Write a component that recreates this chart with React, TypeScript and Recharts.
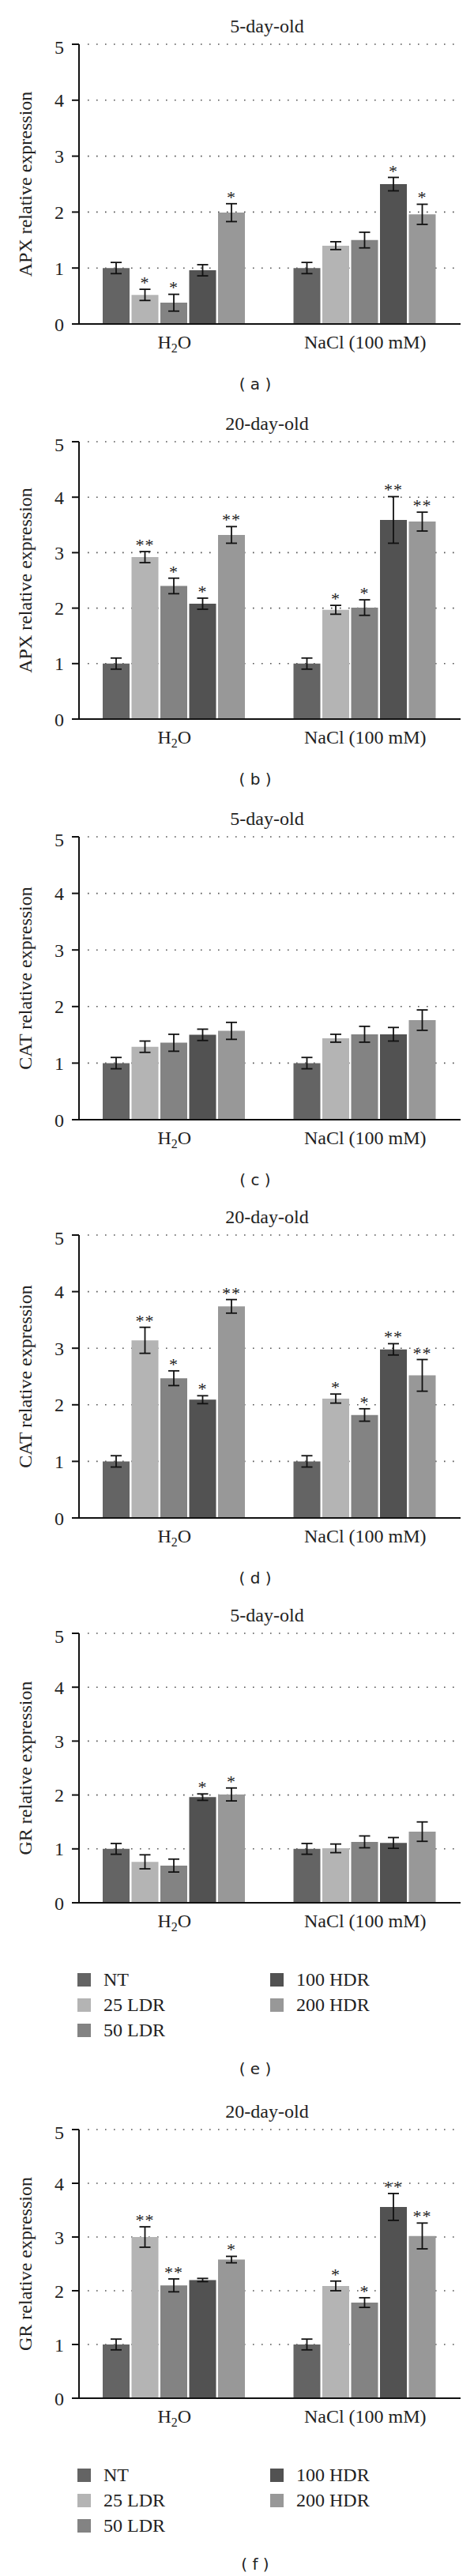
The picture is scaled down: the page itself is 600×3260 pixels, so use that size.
import React from "react";
import {
  BarChart,
  Bar,
  XAxis,
  YAxis,
  CartesianGrid,
  ErrorBar,
  LabelList,
  Label,
} from "recharts";

const categories = ["H2O", "NaCl (100 mM)"];
const seriesNames = ["NT", "25 LDR", "50 LDR", "100 HDR", "200 HDR"];
const seriesColors = ["#646464", "#b4b4b4", "#838383", "#525252", "#989898"];
const yTicks = [0, 1, 2, 3, 4, 5];

// rows: H2O, NaCl; columns: NT, 25 LDR, 50 LDR, 100 HDR, 200 HDR
const apx5Mean = [[1.0, 0.52, 0.38, 0.96, 1.99], [1.0, 1.4, 1.5, 2.5, 1.96]];
const apx5Err = [[0.1, 0.1, 0.15, 0.1, 0.16], [0.1, 0.07, 0.14, 0.12, 0.18]];
const apx5Sig = [["", "*", "*", "", "*"], ["", "", "", "*", "*"]];

const apx20Mean = [[1.0, 2.92, 2.4, 2.08, 3.32], [1.0, 1.97, 2.01, 3.59, 3.56]];
const apx20Err = [[0.1, 0.1, 0.14, 0.1, 0.15], [0.1, 0.08, 0.14, 0.42, 0.17]];
const apx20Sig = [["", "**", "*", "*", "**"], ["", "*", "*", "**", "**"]];

const cat5Mean = [[1.0, 1.29, 1.36, 1.5, 1.57], [1.0, 1.44, 1.51, 1.51, 1.76]];
const cat5Err = [[0.1, 0.1, 0.15, 0.1, 0.15], [0.1, 0.07, 0.14, 0.12, 0.18]];
const cat5Sig = [["", "", "", "", ""], ["", "", "", "", ""]];

const cat20Mean = [[1.0, 3.14, 2.47, 2.09, 3.74], [1.0, 2.11, 1.82, 2.98, 2.52]];
const cat20Err = [[0.1, 0.23, 0.13, 0.07, 0.12], [0.1, 0.08, 0.11, 0.1, 0.28]];
const cat20Sig = [["", "**", "*", "*", "**"], ["", "*", "*", "**", "**"]];

const gr5Mean = [[1.0, 0.76, 0.69, 1.96, 2.01], [1.0, 1.01, 1.13, 1.11, 1.32]];
const gr5Err = [[0.1, 0.13, 0.12, 0.06, 0.12], [0.1, 0.08, 0.11, 0.1, 0.18]];
const gr5Sig = [["", "", "", "*", "*"], ["", "", "", "", ""]];

const gr20Mean = [[1.0, 3.0, 2.1, 2.2, 2.58], [1.0, 2.09, 1.78, 3.56, 3.02]];
const gr20Err = [[0.1, 0.19, 0.12, 0.03, 0.06], [0.1, 0.09, 0.09, 0.25, 0.24]];
const gr20Sig = [["", "**", "**", "", "*"], ["", "*", "*", "**", "**"]];

const serif = '"Liberation Serif", "DejaVu Serif", serif';
const sans = '"DejaVu Sans", "Liberation Sans", sans-serif';
const ink = "#222";

const panels = [
  { tag: "a", title: "5-day-old", yLabel: "APX relative expression", mean: apx5Mean, err: apx5Err, sig: apx5Sig, y5: 56, y0: 410, legend: false },
  { tag: "b", title: "20-day-old", yLabel: "APX relative expression", mean: apx20Mean, err: apx20Err, sig: apx20Sig, y5: 559, y0: 910, legend: false },
  { tag: "c", title: "5-day-old", yLabel: "CAT relative expression", mean: cat5Mean, err: cat5Err, sig: cat5Sig, y5: 1059, y0: 1417, legend: false },
  { tag: "d", title: "20-day-old", yLabel: "CAT relative expression", mean: cat20Mean, err: cat20Err, sig: cat20Sig, y5: 1563, y0: 1921, legend: false },
  { tag: "e", title: "5-day-old", yLabel: "GR relative expression", mean: gr5Mean, err: gr5Err, sig: gr5Sig, y5: 2067, y0: 2408, legend: true },
  { tag: "f", title: "20-day-old", yLabel: "GR relative expression", mean: gr20Mean, err: gr20Err, sig: gr20Sig, y5: 2695, y0: 3035, legend: true },
];

function buildRows(mean: number[][], err: number[][], sig: string[][]) {
  return categories.map((cat, c) => {
    const row: any = { cat };
    seriesNames.forEach((_, s) => {
      row[`v${s}`] = mean[c][s];
      row[`e${s}`] = err[c][s];
      row[`s${s}`] = sig[c][s];
    });
    return row;
  });
}

// category tick, "H2O" gets a subscript 2
const CatTick = (props: any) => {
  const { x, y, payload } = props;
  const label = String(payload.value);
  const m = /^([A-Z][a-z]?)(\d)([A-Z].*)$/.exec(label);
  return (
    <text x={x} y={y + 31} textAnchor="middle" fontFamily={serif} fontSize={24} fill={ink}>
      {m ? (
        <>
          <tspan>{m[1]}</tspan>
          <tspan dy={5} fontSize={16}>{m[2]}</tspan>
          <tspan dy={-5}>{m[3]}</tspan>
        </>
      ) : (
        label
      )}
    </text>
  );
};

const starContent = (rows: any[], s: number) => (props: any) => {
  const { index, value } = props;
  if (!value) return null;
  const vb = props.viewBox || props;
  const x = Number(props.x ?? vb.x);
  const y = Number(props.y ?? vb.y);
  const w = Number(props.width ?? vb.width);
  const h = Number(props.height ?? vb.height);
  const row = rows[index];
  const capY = y - (row[`e${s}`] * h) / row[`v${s}`];
  return (
    <text x={x + w / 2} y={capY - 1} textAnchor="middle" fontFamily={serif} fontSize={22} fill={ink} letterSpacing={1}>
      {value}
    </text>
  );
};

function Legend5({ top }: { top: number }) {
  const cols = [
    { x: 98, items: [0, 1, 2] },
    { x: 342, items: [3, 4] },
  ];
  return (
    <>
      {cols.map((col) =>
        col.items.map((s, r) => (
          <div
            key={s}
            style={{ position: "absolute", left: col.x, top: top + r * 32 - 12, height: 24, display: "flex", alignItems: "center" }}
          >
            <div style={{ width: 17, height: 17, background: seriesColors[s] }} />
            <span style={{ marginLeft: 16, fontFamily: serif, fontSize: 24, color: ink, lineHeight: "24px" }}>
              {seriesNames[s]}
            </span>
          </div>
        ))
      )}
    </>
  );
}

function Panel({ p }: { p: (typeof panels)[number] }) {
  const rows = buildRows(p.mean, p.err, p.sig);
  const topPad = 10;
  const height = p.y0 - p.y5 + topPad + 50;
  const subY = p.legend ? p.y0 + 211 : p.y0 + 77;
  return (
    <>
      <div
        style={{ position: "absolute", left: 88, width: 500, top: p.y5 - 15 - 20, textAlign: "center", fontFamily: serif, fontSize: 24, lineHeight: "24px", color: ink }}
      >
        {p.title}
      </div>
      <div style={{ position: "absolute", left: 0, top: p.y5 - topPad }}>
        <BarChart
          width={600}
          height={height}
          data={rows}
          margin={{ top: topPad, right: 17, bottom: 0, left: 0 }}
          barCategoryGap={30}
          barGap={2.5}
        >
          <CartesianGrid vertical={false} stroke="#555" strokeWidth={1.6} strokeDasharray="1.6 9.4" x={111} width={472} />
          <XAxis
            dataKey="cat"
            height={50}
            interval={0}
            axisLine={{ stroke: "#111", strokeWidth: 2.2 }}
            tickLine={false}
            tickSize={0}
            tickMargin={0}
            tick={(props: any) => <CatTick {...props} />}
          />
          <YAxis
            type="number"
            width={100}
            domain={[0, 5]}
            ticks={yTicks}
            allowDataOverflow
            axisLine={{ stroke: "#111", strokeWidth: 2 }}
            tickLine={{ stroke: "#111", strokeWidth: 2 }}
            tickSize={9}
            tickMargin={10}
            tick={{ fontFamily: serif, fontSize: 24, fill: ink }}
          >
            <Label
              content={(lp: any) => {
                const vb = lp.viewBox || { y: 0, height: 0 };
                const cx = 40;
                const cy = vb.y + vb.height / 2;
                return (
                  <text x={cx} y={cy} transform={`rotate(-90 ${cx} ${cy})`} textAnchor="middle" fontFamily={serif} fontSize={24} fill={ink}>
                    {p.yLabel}
                  </text>
                );
              }}
            />
          </YAxis>
          {seriesNames.map((name, s) => (
            <Bar key={name} dataKey={`v${s}`} name={name} fill={seriesColors[s]} isAnimationActive={false}>
              <ErrorBar dataKey={`e${s}`} width={7} stroke="#111" strokeWidth={1.8} direction="y" />
              <LabelList dataKey={`s${s}`} content={starContent(rows, s)} />
            </Bar>
          ))}
        </BarChart>
      </div>
      {p.legend && <Legend5 top={p.y0 + 97} />}
      <div
        style={{ position: "absolute", left: 223, width: 200, top: subY - 11, textAlign: "center", fontFamily: sans, fontSize: 20, lineHeight: "20px", color: ink, whiteSpace: "pre" }}
      >
        {`( ${p.tag} )`}
      </div>
    </>
  );
}

export default function App() {
  return (
    <div style={{ position: "absolute", left: 0, top: 0, width: 600, height: 3260, background: "#fff" }}>
      {panels.map((p) => (
        <Panel key={p.tag} p={p} />
      ))}
    </div>
  );
}
